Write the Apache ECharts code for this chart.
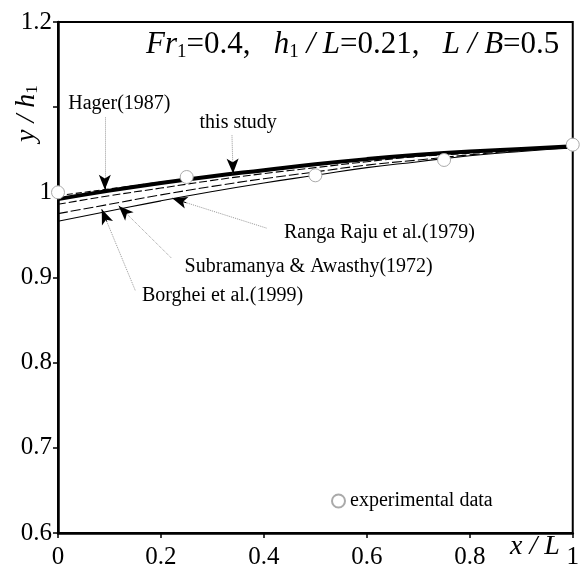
<!DOCTYPE html>
<html lang="en">
<head>
    <meta charset="UTF-8">
    <title>y/h1 profile</title>
    <script src="https://cdn.jsdelivr.net/npm/echarts@6/dist/echarts.min.js"></script>
    <style>
        html, body { margin: 0; padding: 0; background: #fff; }
    </style>
</head>
<body>
    <div id="main" style="width: 582px;height: 580px"></div>
    <script type="text/javascript">
        // x/L positions
        var xs = [0, 0.1, 0.2, 0.3, 0.4, 0.5, 0.6, 0.7, 0.8, 0.9, 1.0];
        // curves
        var thisStudy  = [0.992, 1.002, 1.011, 1.019, 1.026, 1.033, 1.039, 1.044, 1.048, 1.051, 1.054];
        var hager      = [0.996, 1.004, 1.012, 1.019, 1.026, 1.032, 1.038, 1.043, 1.047, 1.051, 1.054];
        var rangaRaju  = [0.986, 0.996, 1.005, 1.014, 1.022, 1.029, 1.036, 1.042, 1.046, 1.050, 1.053];
        var subramanya = [0.975, 0.986, 0.997, 1.007, 1.016, 1.024, 1.032, 1.038, 1.044, 1.049, 1.053];
        var borghei    = [0.966, 0.978, 0.990, 1.001, 1.011, 1.020, 1.029, 1.036, 1.043, 1.048, 1.052];
        // experimental points
        var expX = [0, 0.25, 0.5, 0.75, 1.0];
        var expY = [1.0, 1.018, 1.020, 1.038, 1.056];
        // x tick labels
        var xTicks = ['0', '0.2', '0.4', '0.6', '0.8', '1'];

        // annotations: text anchor and arrow (from -> tip), all in data units
        var notes = [
            { text: 'Hager(1987)', at: [0.019, 1.104], from: [0.091, 1.088], to: [0.091, 1.003] },
            { text: 'this study', at: [0.274, 1.082], from: [0.338, 1.067], to: [0.340, 1.022] },
            { text: 'Ranga Raju et al.(1979)', at: [0.438, 0.953], from: [0.405, 0.958], to: [0.222, 0.993] },
            { text: 'Subramanya & Awasthy(1972)', at: [0.245, 0.913], from: [0.220, 0.923], to: [0.118, 0.984] },
            { text: 'Borghei et al.(1999)', at: [0.162, 0.879], from: [0.150, 0.885], to: [0.085, 0.980] }
        ];

        var serif = 'Liberation Serif';
        function pairs(ys) { return xs.map(function (x, i) { return [x, ys[i]]; }); }
        // point a little before the tip, for the black arrow head
        function nearTip(n) {
            var k = 0.85;
            return [n.from[0] + (n.to[0] - n.from[0]) * k, n.from[1] + (n.to[1] - n.from[1]) * k];
        }

        var myChart = echarts.init(document.getElementById('main'));

        var thinLine = function (name, ys, dash) {
            return {
                name: name, type: 'line', data: pairs(ys), smooth: true,
                symbol: 'none', silent: true, z: 3,
                lineStyle: { color: '#000', width: 1.1, type: dash }
            };
        };

        var option = {
            backgroundColor: '#fff',
            animation: false,
            grid: { left: 58, right: 6, top: 22, bottom: 47, show: true, borderColor: '#000', borderWidth: 2 },
            legend: {
                data: ['experimental data'], left: 326, top: 486,
                icon: 'circle', itemWidth: 13, itemHeight: 13, itemGap: 6,
                textStyle: { fontFamily: serif, fontSize: 20, color: '#000' }
            },
            xAxis: {
                type: 'value', min: 0, max: 1, interval: 0.2,
                axisLine: { lineStyle: { color: '#000', width: 2.5 } },
                axisTick: { length: 5, lineStyle: { color: '#000', width: 1.5 } },
                splitLine: { show: false },
                axisLabel: {
                    fontFamily: serif, fontSize: 25, color: '#000', margin: 12,
                    formatter: function (v) { return xTicks[Math.round(v / 0.2)]; }
                }
            },
            yAxis: {
                type: 'value', min: 0.6, max: 1.2, interval: 0.1,
                axisLine: { lineStyle: { color: '#000', width: 2.5 } },
                axisTick: { length: 5, lineStyle: { color: '#000', width: 1.5 } },
                splitLine: { show: false },
                axisLabel: {
                    fontFamily: serif, fontSize: 25, color: '#000', margin: 6,
                    formatter: function (v) {
                        var r = Math.round(v * 10) / 10;
                        if (r === 1.1) return '';
                        if (r === 1) return '1';
                        return r.toFixed(1);
                    }
                }
            },
            graphic: [
                {
                    type: 'text', left: 146, top: 28,
                    style: {
                        text: '{i|Fr}{s|1}{n|=0.4,   }{i|h}{s|1}{i| / L}{n|=0.21,   }{i|L / B}{n|=0.5}',
                        rich: {
                            i: { fontFamily: serif, fontStyle: 'italic', fontSize: 31, color: '#000', lineHeight: 38 },
                            n: { fontFamily: serif, fontSize: 31, color: '#000', lineHeight: 38 },
                            s: { fontFamily: serif, fontSize: 19, color: '#000', lineHeight: 38, padding: [15, 0, 0, 0] }
                        }
                    }
                },
                {
                    type: 'text', x: 10, y: 142, rotation: Math.PI / 2,
                    style: {
                        text: '{i|y / h}{s|1}',
                        rich: {
                            i: { fontFamily: serif, fontStyle: 'italic', fontSize: 28, color: '#000', lineHeight: 34 },
                            s: { fontFamily: serif, fontSize: 17, color: '#000', lineHeight: 34, padding: [12, 0, 0, 0] }
                        }
                    }
                },
                {
                    type: 'text', left: 510, top: 533,
                    style: { text: 'x / L', fontFamily: serif, fontStyle: 'italic', fontSize: 28, fill: '#000' }
                }
            ],
            series: [
                thinLine('Hager(1987)', hager, [6, 3]),
                thinLine('Ranga Raju et al.(1979)', rangaRaju, [8, 3]),
                thinLine('Subramanya & Awasthy(1972)', subramanya, [10, 3]),
                thinLine('Borghei et al.(1999)', borghei, 'solid'),
                {
                    name: 'this study', type: 'line', data: pairs(thisStudy), smooth: true,
                    symbol: 'none', silent: true, z: 4,
                    lineStyle: { color: '#000', width: 4 }
                },
                {
                    name: 'experimental data', type: 'scatter', clip: false, z: 6,
                    data: expX.map(function (x, i) { return [x, expY[i]]; }),
                    symbol: 'circle', symbolSize: 13,
                    itemStyle: { color: '#fff', borderColor: '#aaa', borderWidth: 1, opacity: 1 }
                },
                {
                    name: 'notes', type: 'scatter', z: 7, silent: true,
                    symbol: 'circle', symbolSize: 1,
                    itemStyle: { color: 'rgba(0,0,0,0)', opacity: 1 },
                    data: notes.map(function (n) { return { value: n.at, name: n.text }; }),
                    label: {
                        show: true, position: 'right', distance: 0,
                        formatter: function (p) { return p.name; },
                        fontFamily: serif, fontSize: 20, color: '#000'
                    },
                    markLine: {
                        silent: true, symbol: ['none', 'none'],
                        label: { show: false },
                        lineStyle: { color: '#999', width: 1, type: 'dotted' },
                        data: notes.map(function (n) {
                            return [{ coord: n.from }, { coord: n.to }];
                        })
                    }
                },
                {
                    name: 'arrow heads', type: 'line', data: [], z: 8, silent: true,
                    markLine: {
                        silent: true, symbol: ['none', 'arrow'], symbolSize: [9, 15],
                        label: { show: false },
                        lineStyle: { color: '#000', width: 1, type: 'solid' },
                        data: notes.map(function (n) {
                            return [{ coord: nearTip(n) }, { coord: n.to }];
                        })
                    }
                }
            ]
        };

        myChart.setOption(option);
        window.addEventListener('resize', function () {
            myChart.resize();
        });
    </script>
</body>
</html>
